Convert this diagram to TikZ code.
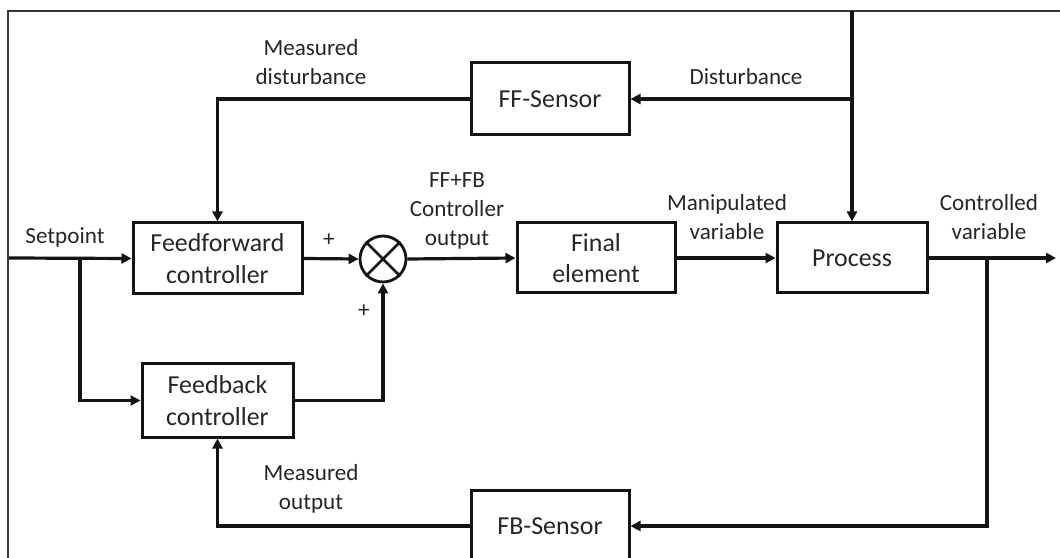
\documentclass[tikz,border=0pt]{standalone}
\usepackage{fontspec}
\setmainfont{Carlito}
\usetikzlibrary{arrows.meta}
\definecolor{ink}{HTML}{141414}
\definecolor{txt}{HTML}{262626}
\tikzset{
  blk/.style={draw=ink, line width=3bp, rectangle, align=center, text=txt,
    font=\fontsize{26}{31.5}\selectfont, inner sep=0pt},
  lbl/.style={align=center, text=txt, font=\fontsize{23.2}{29}\selectfont, inner sep=0pt},
  sig/.style={draw=ink, line width=3.2bp, -{Triangle[length=10bp,width=10bp]}},
  wire/.style={draw=ink, line width=3.2bp},
  frame/.style={draw=ink!85, line width=2bp}
}
\begin{document}
\begin{tikzpicture}[x=1bp, y=-1bp]
\useasboundingbox (0,0) rectangle (1060,558);
\fill[white] (0,0) rectangle (1060,558);

% outer frame
\draw[frame] (8,558) -- (8,11) -- (1060,11);

% blocks
\node[blk, minimum width=169bp, minimum height=71bp] (ff) at (217.5,258.5) {Feedforward\\controller};
\node[blk, minimum width=151bp, minimum height=73bp] (fb) at (217.5,400.5) {Feedback\\controller};
\node[blk, minimum width=158bp, minimum height=70bp] (fe) at (596,258) {Final\\element};
\node[blk, minimum width=150bp, minimum height=70bp] (proc) at (852,258) {Process};
\node[blk, minimum width=158bp, minimum height=72bp] (ffs) at (550,99) {FF-Sensor};
\node[blk, minimum width=158bp, minimum height=72bp] (fbs) at (550,526) {FB-Sensor};

% summing junction
\node[draw=ink, line width=2.8bp, circle, minimum size=46bp, inner sep=0pt] (sum) at (383,259) {};
\draw[wire, line width=2.6bp] (sum.north west) -- (sum.south east);
\draw[wire, line width=2.6bp] (sum.north east) -- (sum.south west);

% free ends and branch points
\coordinate (sp) at (9,258);
\coordinate (spb) at (80,258);
\coordinate (out) at (1056,258);
\coordinate (cvb) at (987,258);
\coordinate (dtop) at (852,11);
\coordinate (dbr) at (852,99);

% signal paths
\draw[sig] (sp) -- (ff.west);
\draw[sig] (spb) |- (fb.west);
\draw[sig] (ff.east) -- (sum.west);
\draw[sig] (fb.east) -| (sum.south);
\draw[sig] (sum.east) -- (fe.west);
\draw[sig] (fe.east) -- (proc.west);
\draw[sig] (proc.east) -- (out);
\draw[sig] (cvb) |- (fbs.east);
\draw[sig] (fbs.west) -| (fb.south);
\draw[sig] (dtop) -- (proc.north);
\draw[sig] (dbr) -- (ffs.east);
\draw[sig] (ffs.west) -| (ff.north);

% labels
\node[lbl] (l-md) at (311,62) {Measured\\disturbance};
\node[lbl] (l-d) at (746,77) {Disturbance};
\node[lbl] (l-sp) at (65,237) {Setpoint};
\node[lbl] (l-p1) at (329,240) {+};
\node[lbl] (l-p2) at (364,311) {+};
\node[lbl] (l-co) at (457,211) {FF+FB\\Controller\\output};
\node[lbl] (l-mv) at (727,217) {Manipulated\\variable};
\node[lbl] (l-cv) at (989,217) {Controlled\\variable};
\node[lbl] (l-mo) at (311,489) {Measured\\output};
\end{tikzpicture}
\end{document}
